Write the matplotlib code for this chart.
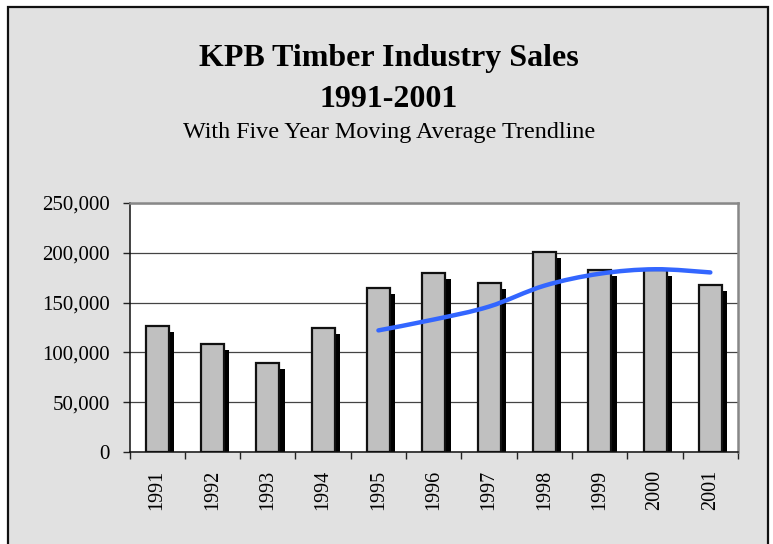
import numpy as np
import matplotlib
matplotlib.use('Agg')
import matplotlib.pyplot as plt
from matplotlib.patches import Rectangle, PathPatch
from matplotlib.path import Path
from matplotlib.ticker import FuncFormatter, FixedLocator

years = ['1991', '1992', '1993', '1994', '1995', '1996', '1997', '1998', '1999', '2000', '2001']
sales = [126800, 108000, 89700, 124100, 164300, 179700, 170000, 201100, 183000, 182500, 167700]
# five year moving average, starts at 1995
trend_years = ['1995', '1996', '1997', '1998', '1999', '2000', '2001']
trend = [122100, 133000, 146000, 167000, 179000, 183500, 180300]

plt.rcParams['font.family'] = ['Liberation Serif', 'DejaVu Serif']

fig = plt.figure(figsize=(7.73, 5.44), dpi=100)
fig.patch.set_facecolor('white')

# grey chart area with a border
border = Rectangle((8 / 773, -0.05), 760 / 773, 1 - 7 / 544 + 0.05,
                   transform=fig.transFigure, facecolor='#e1e1e1',
                   edgecolor='#111111', linewidth=1.6, zorder=-10)
fig.patches.append(border)

ax = fig.add_axes([129.5 / 773, 1 - 452 / 544, 608.5 / 773, 249 / 544])
ax.set_facecolor('white')

x = np.arange(len(years))
w = 0.415
dx = 5.5 / 55.4        # shadow offset to the right
dy = 6 * 250000 / 249  # shadow offset downwards

ax.bar(x + dx, np.array(sales) - dy, width=w, color='black', zorder=2)
ax.bar(x, sales, width=w, color='#c0c0c0', edgecolor='#111111', linewidth=1.6, zorder=3)

# smoothed trend line (bezier through the points)
tx = np.array([years.index(y) for y in trend_years], dtype=float)
ty = np.array(trend, dtype=float)
pts = np.column_stack([tx, ty])
verts = [pts[0]]
codes = [Path.MOVETO]
for i in range(len(pts) - 1):
    p0 = pts[i - 1] if i > 0 else pts[i]
    p1 = pts[i]
    p2 = pts[i + 1]
    p3 = pts[i + 2] if i + 2 < len(pts) else pts[i + 1]
    c1 = p1 + (p2 - p0) / 6
    c2 = p2 - (p3 - p1) / 6
    verts += [c1, c2, p2]
    codes += [Path.CURVE4] * 3
ax.add_patch(PathPatch(Path(verts, codes), facecolor='none', edgecolor='#3366ff',
                       linewidth=3.2, capstyle='round', joinstyle='round', zorder=4))

ax.set_xlim(-0.5, len(years) - 0.5)
ax.set_ylim(0, 250000)
ax.set_yticks(np.arange(0, 250001, 50000))
ax.yaxis.set_major_formatter(FuncFormatter(lambda v, p: '{:,.0f}'.format(v)))
ax.grid(axis='y', color='#444444', linewidth=0.9, zorder=1)
ax.set_axisbelow(True)

ax.set_xticks(x)
ax.set_xticklabels(years, rotation=90)
ax.xaxis.set_minor_locator(FixedLocator(np.arange(-0.5, len(years), 1)))
ax.tick_params(axis='x', which='major', length=0, pad=13, labelsize=14.5)
ax.tick_params(axis='x', which='minor', length=5, width=1, direction='out', color='#222222')
ax.tick_params(axis='y', length=5, width=1, direction='out', pad=9, labelsize=15, color='#222222')

for s in ['left', 'bottom']:
    ax.spines[s].set_color('#111111')
    ax.spines[s].set_linewidth(1.1)
for s in ['top', 'right']:
    ax.spines[s].set_color('#888888')
    ax.spines[s].set_linewidth(1.8)

fig.text(389 / 773, 1 - 66 / 544, 'KPB Timber Industry Sales', ha='center', va='baseline',
         fontsize=23, fontweight='bold')
fig.text(389 / 773, 1 - 106.7 / 544, '1991-2001', ha='center', va='baseline',
         fontsize=23, fontweight='bold')
fig.text(389 / 773, 1 - 138.3 / 544, 'With Five Year Moving Average Trendline', ha='center',
         va='baseline', fontsize=17.4)

fig.savefig('out.png', dpi=100)
